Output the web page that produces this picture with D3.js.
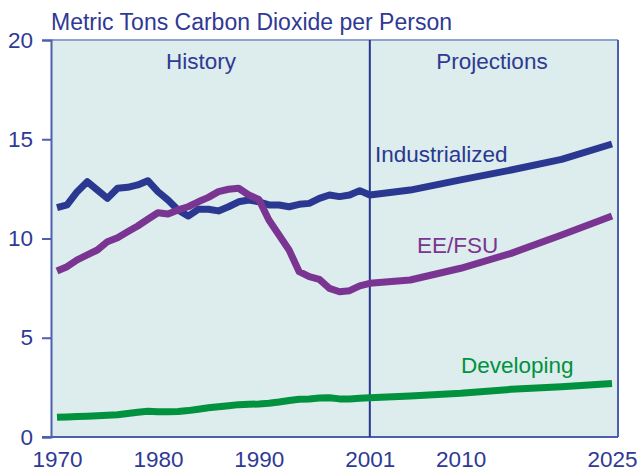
<!DOCTYPE html>
<html>
<head>
<meta charset="utf-8">
<script src="https://cdn.jsdelivr.net/npm/d3@7"></script>
<style>
	body { margin: 0; background: #fff; }
	svg text { font-family: "Liberation Sans", Arial, sans-serif; }
</style>
</head>
<body>
<div id="graphicContainer"></div>
<script>

// history years 1970-2001, projections 2001-2025

var histYears = d3.range(1970, 2002)
var projYears = [2001, 2005, 2010, 2015, 2020, 2025]

var industrialHist = [11.55, 11.69, 12.36, 12.86, 12.44, 12.02, 12.53, 12.58, 12.70, 12.91,
	12.36, 11.94, 11.44, 11.13, 11.47, 11.47, 11.39, 11.60, 11.85, 11.94,
	11.85, 11.69, 11.69, 11.60, 11.72, 11.77, 12.02, 12.19, 12.11, 12.19,
	12.41, 12.19]
var industrialProj = [12.17, 12.44, 12.95, 13.45, 13.99, 14.76]

var eefsuHist = [8.36, 8.58, 8.92, 9.17, 9.42, 9.84, 10.04, 10.34, 10.63, 10.97,
	11.30, 11.23, 11.44, 11.60, 11.85, 12.07, 12.36, 12.48, 12.53, 12.19,
	11.97, 10.93, 10.18, 9.42, 8.33, 8.08, 7.94, 7.49, 7.32, 7.37,
	7.61, 7.74]
var eefsuProj = [7.77, 7.91, 8.50, 9.25, 10.18, 11.13]

var developingHist = [0.99, 1.01, 1.03, 1.05, 1.07, 1.09, 1.12, 1.18, 1.25, 1.30,
	1.27, 1.27, 1.29, 1.33, 1.40, 1.47, 1.52, 1.57, 1.63, 1.65,
	1.66, 1.70, 1.76, 1.84, 1.90, 1.92, 1.96, 1.98, 1.92, 1.92,
	1.95, 1.98]
var developingProj = [2.03, 2.07, 2.20, 2.40, 2.53, 2.70]

var xTicks = [1970, 1980, 1990, 2001, 2010, 2025]
var yTicks = [0, 5, 10, 15, 20]

var seriesNames = ["Industrialized", "EE/FSU", "Developing"]

function init() {

	var width = 639
	var height = 472

	var textColor = "#2e3a94"
	var colors = {"Industrialized": "#2a3892", "EE/FSU": "#7a3592", "Developing": "#00923f"}
	var fontSize = "22.5px"

	var svg = d3.select("#graphicContainer").append("svg")
				.attr("width", width)
				.attr("height", height)

	var frame = {left: 51, right: 618, top: 40, bottom: 437}

	var x = d3.scaleLinear()
		.domain([1970, 2025])
		.range([57, 612])

	var y = d3.scaleLinear()
		.domain([0, 20])
		.range([frame.bottom, frame.top])

	// background panel

	svg.append("rect")
		.attr("x", frame.left)
		.attr("y", frame.top)
		.attr("width", frame.right - frame.left)
		.attr("height", frame.bottom - frame.top)
		.attr("fill", "#ddecec")

	// frame lines: top lighter, sides blue

	svg.append("line")
		.attr("x1", frame.left).attr("x2", frame.right)
		.attr("y1", frame.top).attr("y2", frame.top)
		.attr("stroke", "#8ea2d2").attr("stroke-width", 2)

	svg.append("line")
		.attr("x1", frame.right).attr("x2", frame.right)
		.attr("y1", frame.top).attr("y2", frame.bottom)
		.attr("stroke", "#4c5fb0").attr("stroke-width", 2)

	// y axis

	var yAxis = svg.append("g")
		.attr("transform", "translate(" + frame.left + ",0)")
		.call(d3.axisLeft(y).tickValues(yTicks).tickSize(9).tickPadding(9))

	yAxis.select(".domain").attr("stroke", "#4c5fb0").attr("stroke-width", 2)
	yAxis.selectAll(".tick line").attr("stroke", "#4c5fb0").attr("stroke-width", 2)
	yAxis.selectAll(".tick text")
		.attr("fill", textColor)
		.style("font-size", fontSize)

	// x axis

	var xAxis = svg.append("g")
		.attr("transform", "translate(0," + frame.bottom + ")")
		.call(d3.axisBottom(x).tickValues(xTicks).tickFormat(d3.format("d")).tickSize(0).tickPadding(14))

	xAxis.select(".domain").remove()
	xAxis.selectAll(".tick text")
		.attr("fill", textColor)
		.attr("dy", "0.71em")
		.style("font-size", fontSize)

	svg.append("line")
		.attr("x1", frame.left - 9).attr("x2", frame.right)
		.attr("y1", frame.bottom).attr("y2", frame.bottom)
		.attr("stroke", "#4c5fb0").attr("stroke-width", 2)

	// history / projections divider

	svg.append("line")
		.attr("x1", x(2001)).attr("x2", x(2001))
		.attr("y1", frame.top).attr("y2", frame.bottom)
		.attr("stroke", "#26358f").attr("stroke-width", 2)

	// title

	svg.append("text")
		.attr("x", frame.left)
		.attr("y", 30)
		.attr("fill", textColor)
		.style("font-size", "23px")
		.text("Metric Tons Carbon Dioxide per Person")

	svg.append("text")
		.attr("x", 201)
		.attr("y", 69)
		.attr("text-anchor", "middle")
		.attr("fill", textColor)
		.style("font-size", fontSize)
		.text("History")

	svg.append("text")
		.attr("x", 492)
		.attr("y", 69)
		.attr("text-anchor", "middle")
		.attr("fill", textColor)
		.style("font-size", fontSize)
		.text("Projections")

	// lines

	var line = d3.line()
		.x(d => x(d[0]))
		.y(d => y(d[1]))

	var series = [
		{name: "Industrialized", hist: industrialHist, proj: industrialProj, lx: 375, ly: 162},
		{name: "EE/FSU", hist: eefsuHist, proj: eefsuProj, lx: 417, ly: 253},
		{name: "Developing", hist: developingHist, proj: developingProj, lx: 461, ly: 373}
	]

	series.forEach(function(s) {
		var pts = histYears.map((yr, i) => [yr, s.hist[i]])
		var proj = projYears.map((yr, i) => [yr, s.proj[i]])
		pts = pts.concat(proj.slice(1))

		svg.append("path")
			.datum(pts)
			.attr("d", line)
			.attr("fill", "none")
			.attr("stroke", colors[s.name])
			.attr("stroke-width", 7)
			.attr("stroke-linejoin", "round")

		svg.append("text")
			.attr("x", s.lx)
			.attr("y", s.ly)
			.attr("fill", colors[s.name])
			.style("font-size", fontSize)
			.text(s.name)
	})

}

init()

</script>
</body>
</html>
